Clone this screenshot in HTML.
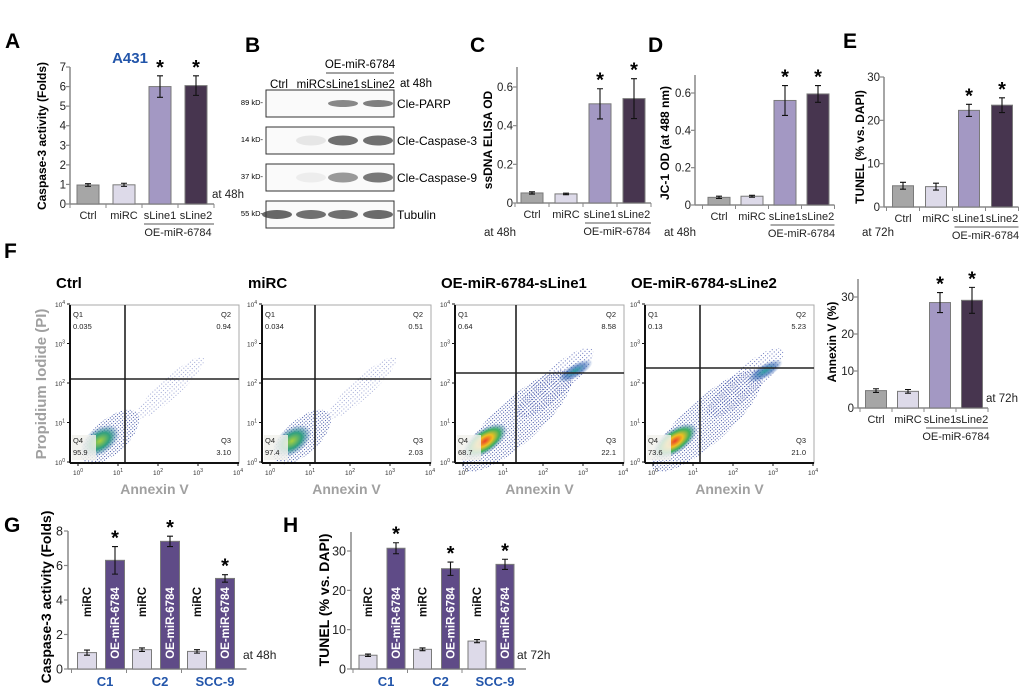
<!DOCTYPE html>
<html><head><meta charset="utf-8"><style>
html,body{margin:0;padding:0;background:#fff}
svg{display:block;font-family:"Liberation Sans",Arial,sans-serif}
</style></head><body>
<svg id="fig" width="1020" height="692" viewBox="0 0 1020 692" xmlns="http://www.w3.org/2000/svg">
<defs>
<pattern id="dots" width="2.5" height="2.5" patternUnits="userSpaceOnUse"><rect x="0" y="0" width="1" height="1" fill="#1f3596"/></pattern>
<pattern id="dots2" width="3" height="3" patternUnits="userSpaceOnUse"><rect x="1" y="1" width="1" height="1" fill="#3a4ba8"/></pattern>
<radialGradient id="core" cx="50%" cy="50%" r="50%"><stop offset="0" stop-color="#e8402a"/><stop offset="0.35" stop-color="#f0c020"/><stop offset="0.65" stop-color="#3cb060"/><stop offset="1" stop-color="#2a5fb0" stop-opacity="0"/></radialGradient>
<radialGradient id="coreG" cx="50%" cy="50%" r="50%"><stop offset="0" stop-color="#a8d040"/><stop offset="0.5" stop-color="#30a080"/><stop offset="1" stop-color="#2a5fb0" stop-opacity="0"/></radialGradient>
<radialGradient id="coreB" cx="50%" cy="50%" r="50%"><stop offset="0" stop-color="#30a0a0"/><stop offset="0.6" stop-color="#2a5fb0" stop-opacity="0.6"/><stop offset="1" stop-color="#2a5fb0" stop-opacity="0"/></radialGradient>
</defs>
</svg>
<script>
// ---------- data ----------
const A_cats=['Ctrl','miRC','sLine1','sLine2'];
const A_vals=[0.97,0.98,6.0,6.05];
const A_err=[0.07,0.08,0.55,0.5];
const A_ticks=[0,1,2,3,4,5,6,7];
const C_vals=[0.052,0.047,0.513,0.54];
const C_err=[0.006,0.004,0.078,0.103];
const C_ticks=[0,0.2,0.4,0.6];
const D_vals=[0.041,0.047,0.56,0.595];
const D_err=[0.006,0.005,0.08,0.045];
const D_ticks=[0,0.2,0.4,0.6];
const E_vals=[4.9,4.7,22.3,23.5];
const E_err=[0.8,0.8,1.4,1.7];
const E_ticks=[0,10,20,30];
const F_vals=[4.7,4.5,28.5,29.1];
const F_err=[0.5,0.5,2.7,3.5];
const F_ticks=[0,10,20,30];
const SIG=[false,false,true,true];
const G_groups=['C1','C2','SCC-9'];
const G_miRC=[0.95,1.12,1.02];
const G_miRCerr=[0.15,0.1,0.1];
const G_oe=[6.3,7.4,5.25];
const G_oeErr=[0.8,0.3,0.22];
const G_ticks=[0,2,4,6,8];
const H_miRC=[3.5,5.0,7.1];
const H_miRCerr=[0.3,0.35,0.4];
const H_oe=[30.7,25.5,26.6];
const H_oeErr=[1.4,1.7,1.3];
const H_ticks=[0,10,20,30];
const FLOW_titles=['Ctrl','miRC','OE-miR-6784-sLine1','OE-miR-6784-sLine2'];
const FLOW_q1=['0.035','0.034','0.64','0.13'];
const FLOW_q2=['0.94','0.51','8.58','5.23'];
const FLOW_q3=['3.10','2.03','22.1','21.0'];
const FLOW_q4=['95.9','97.4','68.7','73.6'];

const COLS=['#a6a6a6','#dddae9','#a398c3','#47354f'];
const OE_COL='#5f4b87';
const svg=document.getElementById('fig');
const NS='http://www.w3.org/2000/svg';
function mk(tag,at,parent){const e=document.createElementNS(NS,tag);for(const k in at)e.setAttribute(k,at[k]);(parent||svg).appendChild(e);return e;}
function txt(s,at,parent){const e=mk('text',at,parent);e.textContent=s;return e;}

[['A',5,48],['B',245,52],['C',470,52],['D',648,52],['E',843,48],['F',4,258],['G',4,532],['H',283,532]].forEach(p=>{
  const t=txt(p[0],{x:p[1],y:p[2],'font-size':21,'font-weight':'bold'});
  
  
});

function barChart(id,vals,errs,ticks,cfg){
  const g=mk('g',{});
  
  
  const ppu=(cfg.y0-cfg.yTick)/ticks[ticks.length-1];
  const y=v=>cfg.y0-v*ppu;
  const xc=i=>cfg.first+i*cfg.step;
  const ax=mk('line',{x1:cfg.ax,y1:cfg.top,x2:cfg.ax,y2:cfg.y0,stroke:'#888','stroke-width':1.5},g);
  
  
  const xe=xc(vals.length-1)+cfg.step/2;
  const xa=mk('line',{x1:cfg.ax,y1:cfg.y0,x2:xe,y2:cfg.y0,stroke:'#888','stroke-width':1.5},g);
  
  
  ticks.forEach(t=>{
    mk('line',{x1:cfg.ax-4,y1:y(t),x2:cfg.ax,y2:y(t),stroke:'#888','stroke-width':1.2},g);
    const l=txt(String(t),{x:cfg.ax-4,y:y(t)+4,'font-size':11.5,'text-anchor':'end',fill:'#222'},g);
    
    
  });
  for(let i=0;i<=vals.length;i++){const xx=cfg.first+(i-0.5)*cfg.step;mk('line',{x1:xx,y1:cfg.y0,x2:xx,y2:cfg.y0+4,stroke:'#888'},g);}
  vals.forEach((v,i)=>{
    const b=mk('rect',{x:xc(i)-cfg.w/2,y:y(v),width:cfg.w,height:cfg.y0-y(v),fill:COLS[i],stroke:'#7a7a7a','stroke-width':1},g);
    
    
    const e=errs[i],x=xc(i);
    mk('path',{d:`M${x} ${y(v+e)}V${y(v-e)}M${x-3} ${y(v+e)}H${x+3}M${x-3} ${y(v-e)}H${x+3}`,stroke:'#111','stroke-width':1.1,fill:'none'},g);
    if(SIG[i]){const s=txt('*',{x:x,y:y(v+e)-2,'font-size':20,'font-weight':'bold','text-anchor':'middle'},g);
      
      }
    const c=txt(A_cats[i],{x:x,y:cfg.y0+15,'font-size':11,'text-anchor':'middle',fill:'#222'},g);
    
    
  });
  mk('line',{x1:xc(2)-cfg.step/2+2,y1:cfg.y0+20,x2:xe,y2:cfg.y0+20,stroke:'#555'},g);
  const oe=txt('OE-miR-6784',{x:(xc(2)+xc(3))/2,y:cfg.y0+32,'font-size':11,'text-anchor':'middle',fill:'#222'},g);
  
  
  const ti=txt(cfg.title,{x:0,y:0,'font-size':12,'font-weight':'bold','text-anchor':'middle',transform:`translate(${cfg.tx},${cfg.ty}) rotate(-90)`},g);
  
  
  const at=txt(cfg.at,{x:cfg.atx,y:cfg.aty,'font-size':11.5,fill:'#222'},g);
  
  
}
barChart('a',A_vals,A_err,A_ticks,{ax:70,y0:204,yTick:67,top:67,first:88,step:36,w:22,title:'Caspase-3 activity (Folds)',tx:46,ty:136,at:'at 48h',atx:212,aty:198});
const a431=txt('A431',{x:130,y:63,'font-size':15,'font-weight':'bold','text-anchor':'middle',fill:'#2255aa'});


barChart('c',C_vals,C_err,C_ticks,{ax:517,y0:203,yTick:87,top:67,first:532,step:34,w:22,title:'ssDNA ELISA OD',tx:492,ty:140,at:'at 48h',atx:484,aty:236});
barChart('d',D_vals,D_err,D_ticks,{ax:695,y0:205,yTick:93,top:75,first:719,step:33,w:22,title:'JC-1 OD (at 488 nm)',tx:669,ty:143,at:'at 48h',atx:664,aty:236});
barChart('e',E_vals,E_err,E_ticks,{ax:884,y0:207,yTick:77,top:77,first:903,step:33,w:21,title:'TUNEL (% vs. DAPI)',tx:864,ty:147,at:'at 72h',atx:862,aty:236});
barChart('f',F_vals,F_err,F_ticks,{ax:858,y0:408,yTick:297,top:279,first:876,step:32,w:21,title:'Annexin V (%)',tx:836,ty:342,at:'at 72h',atx:986,aty:402});

(function(){
  const g=mk('g',{});
  
  
  const lanes=[['Ctrl',279],['miRC',311],['sLine1',343],['sLine2',378]];
  lanes.forEach(l=>{const t=txt(l[0],{x:l[1],y:88,'font-size':11.5,'text-anchor':'middle'},g);
    
    });
  const t1=txt('OE-miR-6784',{x:360,y:68,'font-size':11.5,'text-anchor':'middle'},g);
  
  
  mk('line',{x1:326,y1:73,x2:394,y2:73,stroke:'#444'},g);
  const t2=txt('at 48h',{x:400,y:87,'font-size':11.5},g);
  
  
  const rows=[['Cle-PARP','89 kD-',90,[0,0,0.7,0.75],5],['Cle-Caspase-3','14 kD-',127,[0,0.12,0.85,0.85],8],['Cle-Caspase-9','37 kD-',164,[0,0.08,0.6,0.8],8],['Tubulin','55 kD-',201,[0.9,0.85,0.85,0.88],7]];
  rows.forEach(r=>{
    const box=mk('rect',{x:266,y:r[2],width:128,height:27,fill:'#fafafa',stroke:'#333','stroke-width':1},g);
    
    
    r[3].forEach((o,i)=>{if(o>0){const cx=lanes[i][1]+(i==0?-2:0);
      mk('ellipse',{cx:cx,cy:r[2]+13.5,rx:15,ry:r[4]/2+1,fill:'#3a3a3a','fill-opacity':o*0.85},g);}});
    const a=txt(r[0],{x:397,y:r[2]+18,'font-size':12},g);
    
    
    const b=txt(r[1],{x:263,y:r[2]+15,'font-size':7.5,'text-anchor':'end'},g);
    
    
  });
})();

const FLOW_X=[70,262,455,645];
const FLOW_V=[125,315,516,700];
const FLOW_H=[379,379,373,368];
FLOW_titles.forEach((ttl,k)=>{
  const g=mk('g',{});
  
  
  const x0=FLOW_X[k],y0=305,w=169,h=158,yb=y0+h;
  const tt=txt(ttl,{x:x0-14,y:288,'font-size':15,'font-weight':'bold'},g);
  
  
  mk('rect',{x:x0,y:y0,width:w,height:h,fill:'#fff',stroke:'#aaa','stroke-width':1},g);
  const dense=k>=2;
  const c1x=x0+(dense?62:40), c1y=yb-(dense?42:26);
  mk('ellipse',{cx:c1x,cy:c1y,rx:dense?72:36,ry:dense?22:17,fill:'url(#dots)',opacity:0.9,transform:`rotate(-42 ${c1x} ${c1y})`},g);
  const c2x=x0+(dense?100:100), c2y=yb-(dense?80:75);
  mk('ellipse',{cx:c2x,cy:c2y,rx:dense?50:45,ry:dense?14:10,fill:'url(#dots2)',opacity:dense?0.8:0.5,transform:`rotate(-42 ${c2x} ${c2y})`},g);
  mk('ellipse',{cx:x0+30,cy:yb-22,rx:dense?26:22,ry:dense?12:13,fill:dense?'url(#core)':'url(#coreG)',transform:`rotate(-35 ${x0+30} ${yb-22})`},g);
  if(dense){mk('ellipse',{cx:x0+120,cy:yb-92,rx:20,ry:7,fill:'url(#coreB)',transform:`rotate(-30 ${x0+120} ${yb-92})`},g);}
  mk('rect',{x:x0+2,y:yb-28,width:24,height:25,fill:'#f1f1ec',opacity:0.85},g);
  mk('line',{x1:FLOW_V[k],y1:y0,x2:FLOW_V[k],y2:yb,stroke:'#222','stroke-width':1.6},g);
  mk('line',{x1:x0,y1:FLOW_H[k],x2:x0+w,y2:FLOW_H[k],stroke:'#222','stroke-width':1.6},g);
  mk('line',{x1:x0,y1:y0,x2:x0,y2:yb,stroke:'#111','stroke-width':2},g);
  mk('line',{x1:x0,y1:yb,x2:x0+w,y2:yb,stroke:'#111','stroke-width':2},g);
  for(let d=0;d<5;d++){
    const xx=x0+8+d*40, yy=yb-1-d*39.5;
    mk('line',{x1:x0,y1:yy,x2:x0-3,y2:yy,stroke:'#111'},g);
    mk('line',{x1:xx,y1:yb,x2:xx,y2:yb+3,stroke:'#111'},g);
    const yl=txt('10',{x:x0-5,y:yy+3,'font-size':6.5,'text-anchor':'end',fill:'#333'},g);
    
    
    const ys=mk('tspan',{dy:-3,'font-size':5},yl);ys.textContent=String(d);
    const xl=txt('10',{x:xx,y:yb+12,'font-size':6.5,'text-anchor':'middle',fill:'#333'},g);
    
    
    const xs=mk('tspan',{dy:-3,'font-size':5},xl);xs.textContent=String(d);
  }
  const q=[['Q1',x0+3,y0+12,'start'],[FLOW_q1[k],x0+3,y0+24,'start'],['Q2',x0+w-8,y0+12,'end'],[FLOW_q2[k],x0+w-8,y0+24,'end'],['Q4',x0+3,yb-20,'start'],[FLOW_q4[k],x0+3,yb-8,'start'],['Q3',x0+w-8,yb-20,'end'],[FLOW_q3[k],x0+w-8,yb-8,'end']];
  q.forEach(a=>{const t=txt(a[0],{x:a[1],y:a[2],'font-size':7.5,'text-anchor':a[3],fill:'#222'},g);
    
    });
  const an=txt('Annexin V',{x:x0+w/2,y:494,'font-size':14,'font-weight':'bold','text-anchor':'middle',fill:'#a0a0a0'},g);
  
  
});
const pi=txt('Propidium Iodide (PI)',{x:0,y:0,'font-size':15,'font-weight':'bold','text-anchor':'middle',fill:'#a0a0a0',transform:'translate(46,384) rotate(-90)'});



function groupChart(id,mv,me,ov,oe,ticks,cfg){
  const g=mk('g',{});
  
  
  const ppu=(cfg.y0-cfg.yTick)/ticks[ticks.length-1];
  const y=v=>cfg.y0-v*ppu;
  const gx=i=>cfg.first+i*cfg.gstep;
  mk('line',{x1:cfg.ax,y1:cfg.top,x2:cfg.ax,y2:cfg.y0,stroke:'#888','stroke-width':1.5},g);
  const xe=gx(2)+cfg.gap+cfg.w/2+12;
  mk('line',{x1:cfg.ax,y1:cfg.y0,x2:xe,y2:cfg.y0,stroke:'#888','stroke-width':1.5},g);
  ticks.forEach(t=>{
    mk('line',{x1:cfg.ax-4,y1:y(t),x2:cfg.ax,y2:y(t),stroke:'#888','stroke-width':1.2},g);
    const l=txt(String(t),{x:cfg.ax-5,y:y(t)+4.5,'font-size':12.5,'text-anchor':'end',fill:'#222'},g);
    
    
  });
  G_groups.forEach((gn,i)=>{
    const xm=gx(i), xo=gx(i)+cfg.gap;
    [[mv[i],me[i],xm,COLS[1],'miRC'],[ov[i],oe[i],xo,OE_COL,'OE-miR-6784']].forEach((b,j)=>{
      const r=mk('rect',{x:b[2]-cfg.w/2,y:y(b[0]),width:cfg.w,height:cfg.y0-y(b[0]),fill:b[3],stroke:'#7a7a7a'},g);
      
      
      const x=b[2],e=b[1];
      mk('path',{d:`M${x} ${y(b[0]+e)}V${y(b[0]-e)}M${x-3} ${y(b[0]+e)}H${x+3}M${x-3} ${y(b[0]-e)}H${x+3}`,stroke:'#111','stroke-width':1.1,fill:'none'},g);
      const lab=txt(b[4],{x:0,y:0,'font-size':11.5,'font-weight':'bold','text-anchor':'middle',fill:j?'#fff':'#111',transform:`translate(${x+4},${j?cfg.oeY:cfg.mY}) rotate(-90)`},g);
      
      
      if(j){const s=txt('*',{x:x,y:y(b[0]+e)-2,'font-size':20,'font-weight':'bold','text-anchor':'middle'},g);
        
        }
    });
    const gl=txt(gn,{x:(xm+xo)/2+4,y:cfg.y0+17,'font-size':13,'font-weight':'bold','text-anchor':'middle',fill:'#2255aa'},g);
    
    
    mk('line',{x1:xm-cfg.w/2-6,y1:cfg.y0,x2:xm-cfg.w/2-6,y2:cfg.y0+4,stroke:'#888'},g);
  });
  const ti=txt(cfg.title,{x:0,y:0,'font-size':14,'font-weight':'bold','text-anchor':'middle',transform:`translate(${cfg.tx},${cfg.ty}) rotate(-90)`},g);
  
  
  const at=txt(cfg.at,{x:cfg.atx,y:cfg.y0-10,'font-size':12,fill:'#222'},g);
  
  
}
groupChart('g',G_miRC,G_miRCerr,G_oe,G_oeErr,G_ticks,{ax:68,y0:669,yTick:531,top:531,first:87,gstep:55,gap:28,w:19,mY:602,oeY:623,title:'Caspase-3 activity (Folds)',tx:51,ty:597,at:'at 48h',atx:243});
groupChart('h',H_miRC,H_miRCerr,H_oe,H_oeErr,H_ticks,{ax:351,y0:669,yTick:551,top:532,first:368,gstep:54.5,gap:28,w:18,mY:602,oeY:623,title:'TUNEL (% vs. DAPI)',tx:329,ty:600,at:'at 72h',atx:517});
</script>
</body></html>
